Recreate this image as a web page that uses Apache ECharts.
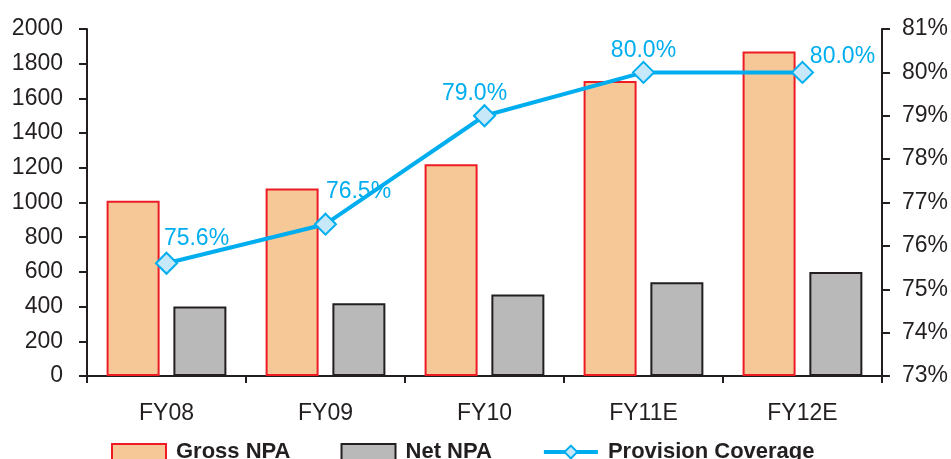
<!DOCTYPE html>
<html>
<head>
<meta charset="utf-8">
<script src="https://cdn.jsdelivr.net/npm/echarts@6/dist/echarts.min.js"></script>
<style>
  html, body { margin: 0; padding: 0; background: #ffffff; }
  #chart { width: 951px; height: 459px; }
</style>
</head>
<body>
<div id="chart"></div>
<script>
// Fiscal years and NPA figures
const categories = ['FY08', 'FY09', 'FY10', 'FY11E', 'FY12E'];
const grossNPA = [1010, 1080, 1220, 1700, 1870];
const netNPA = [400, 420, 470, 540, 600];
const provisionCoverage = [75.6, 76.5, 79.0, 80.0, 80.0];

// Axis ranges
const leftTicks = { min: 0, max: 2000, interval: 200 };
const rightTicks = { min: 73, max: 81, interval: 1 };

// Where each coverage label sits relative to its marker
const coverageLabelOffsets = [[30, -25], [33, -33], [-10, -22], [0, -22], [40, -16]];

const FONT = '"Liberation Sans", Arial, sans-serif';
const INK = '#231F20';
const BLUE = '#00AEEF';

const coverageData = provisionCoverage.map((v, i) => ({
  value: v,
  label: { offset: coverageLabelOffsets[i] }
}));

const chart = echarts.init(document.getElementById('chart'), null, { renderer: 'canvas' });

chart.setOption({
  animation: false,
  backgroundColor: '#ffffff',
  textStyle: { fontFamily: FONT },
  grid: { left: 87, right: 69, top: 29, bottom: 83 },
  legend: {
    left: 106,
    top: 436,
    itemWidth: 54,
    itemHeight: 16,
    itemGap: 50,
    textStyle: {
      fontFamily: FONT, fontSize: 22, fontWeight: 'bold', color: INK,
      padding: [0, 0, 0, 5]
    },
    data: [
      { name: 'Gross NPA', icon: 'rect' },
      { name: 'Net NPA', icon: 'rect' },
      { name: 'Provision Coverage', lineStyle: { width: 4 } }
    ]
  },
  xAxis: {
    type: 'category',
    data: categories,
    boundaryGap: true,
    axisLine: { lineStyle: { color: INK, width: 2 } },
    axisTick: { show: true, length: 7, lineStyle: { color: INK, width: 2 } },
    axisLabel: { color: INK, fontSize: 23, fontFamily: FONT, margin: 26 },
    splitLine: { show: false }
  },
  yAxis: [
    {
      type: 'value',
      min: leftTicks.min, max: leftTicks.max, interval: leftTicks.interval,
      axisLine: { show: true, lineStyle: { color: INK, width: 2 } },
      axisTick: { show: true, length: 8, lineStyle: { color: INK, width: 2 } },
      axisLabel: { color: INK, fontSize: 23, fontFamily: FONT, margin: 24, formatter: v => String(v) },
      splitLine: { show: false }
    },
    {
      type: 'value',
      position: 'right',
      min: rightTicks.min, max: rightTicks.max, interval: rightTicks.interval,
      axisLine: { show: true, lineStyle: { color: INK, width: 2 } },
      axisTick: { show: true, length: 8, lineStyle: { color: INK, width: 2 } },
      axisLabel: { color: INK, fontSize: 23, fontFamily: FONT, margin: 20, formatter: '{value}%' },
      splitLine: { show: false }
    }
  ],
  series: [
    {
      name: 'Gross NPA',
      type: 'bar',
      data: grossNPA,
      barWidth: 53,
      barGap: '26%',
      itemStyle: { color: '#F6C797', borderColor: '#ED1C24', borderWidth: 2 }
    },
    {
      name: 'Net NPA',
      type: 'bar',
      data: netNPA,
      barWidth: 53,
      barGap: '26%',
      itemStyle: { color: '#B9B9B9', borderColor: INK, borderWidth: 2 }
    },
    {
      name: 'Provision Coverage',
      type: 'line',
      yAxisIndex: 1,
      data: coverageData,
      symbol: 'diamond',
      symbolSize: 21,
      z: 5,
      lineStyle: { color: BLUE, width: 4 },
      itemStyle: { color: '#C6E8F9', borderColor: BLUE, borderWidth: 2 },
      label: {
        show: true,
        position: 'inside',
        color: BLUE,
        fontSize: 23,
        fontFamily: FONT,
        formatter: p => p.value.toFixed(1) + '%'
      }
    }
  ]
});
</script>
</body>
</html>
